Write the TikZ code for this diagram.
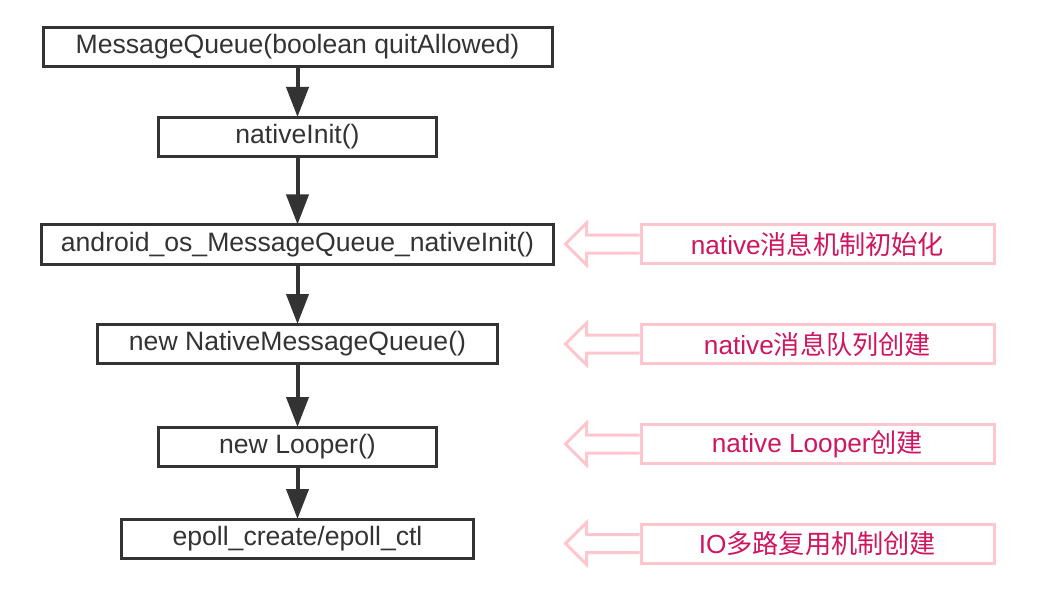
\documentclass[tikz,border=0pt]{standalone}
\usepackage{fontspec}
\setmainfont{Liberation Sans}
\newfontfamily\cjk{Noto Sans CJK SC}
\usetikzlibrary{arrows.meta}
\definecolor{boxgray}{HTML}{333333}
\definecolor{notepink}{HTML}{FFC6CE}
\definecolor{notetext}{HTML}{D01560}

\begin{document}
\begin{tikzpicture}[x=1pt,y=-1pt]
    \tikzstyle{callbox}=[draw=boxgray, line width=3pt, minimum height=39pt, inner sep=0pt, text=boxgray, font=\fontsize{26.6}{30}\selectfont]
    \tikzstyle{notebox}=[draw=notepink, line width=3pt, minimum width=353pt, minimum height=39pt, inner sep=0pt, text=notetext, font=\fontsize{26.2}{30}\selectfont]
    \tikzstyle{callarrow}=[draw=boxgray, line width=4pt, -{Triangle[length=30pt,width=22pt]}, shorten >=-1pt]
    \tikzstyle{notearrow}=[draw=notepink, line width=3pt, line join=miter]
    \useasboundingbox (0,0) rectangle (1056,612);
    \node[callbox, minimum width=509pt] (ctor) at (297.5,47) {MessageQueue(boolean quitAllowed)};
    \node[callbox, minimum width=278pt] (init) at (297.5,137) {nativeInit()};
    \node[callbox, minimum width=512pt] (jni) at (297.5,244.5) {android\_os\_MessageQueue\_nativeInit()};
    \node[callbox, minimum width=400pt] (nmq) at (297.5,344) {new NativeMessageQueue()};
    \node[callbox, minimum width=278pt] (looper) at (297.5,447) {new Looper()};
    \node[callbox, minimum width=352pt] (epoll) at (297.5,539) {epoll\_create/epoll\_ctl};
    \draw[callarrow] (ctor) -- (init);
    \draw[callarrow] (init) -- (jni);
    \draw[callarrow] (jni) -- (nmq);
    \draw[callarrow] (nmq) -- (looper);
    \draw[callarrow] (looper) -- (epoll);
    \node[notebox] (noteA) at (817.5,244) {native{\cjk 消息机制初始化}};
    \node[notebox] (noteB) at (817.5,344) {native{\cjk 消息队列创建}};
    \node[notebox] (noteC) at (817.5,444) {native Looper{\cjk 创建}};
    \node[notebox] (noteD) at (817.5,543.5) {IO{\cjk 多路复用机制创建}};
    \foreach \n in {noteA,noteB,noteC,noteD}
      \draw[notearrow] (\n.west) ++(0,-9) -- ++(-53,0) -- ++(0,-12) -- ++(-21,21) -- ++(21,21) -- ++(0,-12) -- ++(53,0);
\end{tikzpicture}
\end{document}
